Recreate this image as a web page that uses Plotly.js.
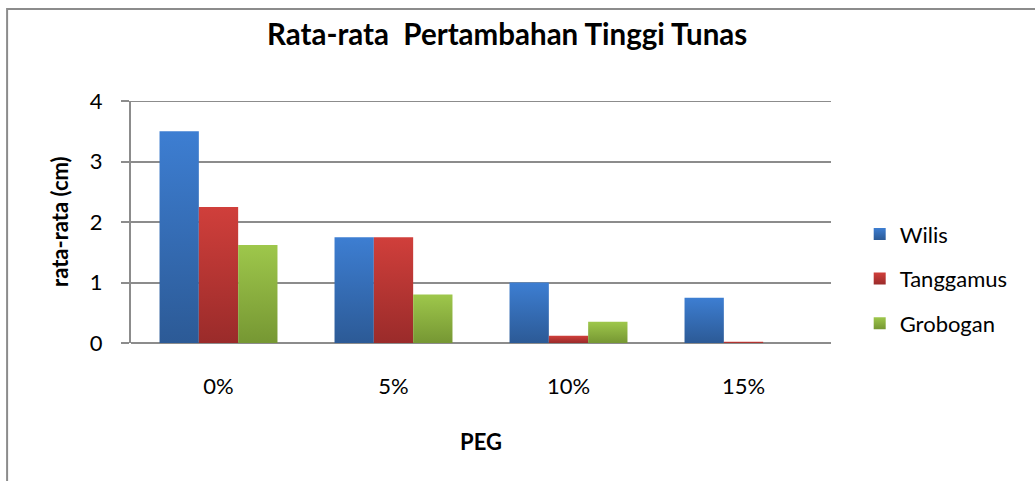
<!DOCTYPE html>
<html><head><meta charset="utf-8">
<script src="https://cdn.plot.ly/plotly-3.0.1.min.js"></script>
<style>html,body{margin:0;padding:0;background:#fff}#chart{width:1035px;height:481px}</style>
</head><body><div id="chart"></div>
<script>
const categories = ["0%", "5%", "10%", "15%"];
const wilis = [3.5, 1.75, 1.0, 0.75];
const tanggamus = [2.25, 1.75, 0.12, 0.02];
const grobogan = [1.62, 0.8, 0.35, 0];
const seriesNames = ["Wilis", "Tanggamus", "Grobogan"];
const colors = ["#3569B2", "#B83634", "#8BB13F"];
const gradTop = ["#3D7ED2", "#D03F3B", "#9EC74B"];
const gradBottom = ["#2C5A96", "#9A2B2A", "#769733"];
const yTicks = [0, 1, 2, 3, 4];

const seriesValues = [wilis, tanggamus, grobogan];
const traces = seriesValues.map((v, i) => ({
  type: "bar", x: categories, y: v, name: seriesNames[i],
  legendgroup: "g" + i,
  marker: {color: colors[i], line: {width: 0}}
}));

const font = "Lato, 'Open Sans', sans-serif";
const gridColor = "#8c8c8c";
const layout = {
  width: 1035, height: 481,
  margin: {l: 131, r: 204, t: 101, b: 138},
  paper_bgcolor: "#fff", plot_bgcolor: "#fff",
  font: {family: font, size: 22, color: "#000"},
  barmode: "group", bargap: 0.326, bargroupgap: 0,
  title: {text: "<b>Rata-rata  Pertambahan Tinggi Tunas</b>", font: {family: font, size: 29.5, color: "#000"},
          x: 0.49, xanchor: "center", y: 0.927, yanchor: "middle"},
  xaxis: {
    type: "category",
    showgrid: false, showline: false, ticks: "", zeroline: false,
    tickfont: {size: 22}, ticklabelstandoff: 28,
    title: {text: "<b>PEG</b>", font: {size: 22}, standoff: 36}
  },
  yaxis: {
    range: [0, 4], tickvals: yTicks, ticktext: yTicks.map(String),
    showgrid: true, gridcolor: gridColor, gridwidth: 2,
    showline: true, linecolor: gridColor, linewidth: 2,
    ticks: "outside", ticklen: 8, tickcolor: gridColor, tickwidth: 2,
    zeroline: true, zerolinecolor: gridColor, zerolinewidth: 2,
    tickfont: {size: 22}, ticklabelstandoff: 14
  },
  annotations: [{text: "<b>rata-rata (cm)</b>", xref: "paper", yref: "paper",
                 x: -0.103, y: 0.5, xanchor: "center", yanchor: "middle",
                 textangle: -90, showarrow: false, font: {size: 22}}],
  legend: {x: 1.041, xanchor: "left", y: 0.266, yanchor: "middle",
           font: {size: 22}, traceorder: "grouped", tracegroupgap: 13,
           itemwidth: 30},
  shapes: [
    {type: "rect", xref: "paper", yref: "paper",
     x0: -0.177, x1: 1.31, y0: -0.62, y1: 1.38,
     line: {color: gridColor, width: 2}},
    {type: "line", xref: "paper", yref: "y", x0: -0.0114, x1: 1, y0: 4, y1: 4,
     line: {color: gridColor, width: 2}}
  ],
  showlegend: true
};
Plotly.newPlot("chart", traces, layout, {staticPlot: true}).then(gd => {
  const svg = gd.querySelector("svg.main-svg");
  const ns = "http://www.w3.org/2000/svg";
  let defs = svg.querySelector("defs");
  if (!defs) { defs = document.createElementNS(ns, "defs"); svg.insertBefore(defs, svg.firstChild); }
  gradTop.forEach((c, i) => {
    const lg = document.createElementNS(ns, "linearGradient");
    lg.setAttribute("id", "barGrad" + i);
    lg.setAttribute("x1", "0"); lg.setAttribute("y1", "0");
    lg.setAttribute("x2", "0"); lg.setAttribute("y2", "1");
    [[0, c], [1, gradBottom[i]]].forEach(([o, col]) => {
      const s = document.createElementNS(ns, "stop");
      s.setAttribute("offset", o); s.setAttribute("stop-color", col);
      lg.appendChild(s);
    });
    defs.appendChild(lg);
  });
  gd.querySelectorAll(".barlayer .trace.bars").forEach((t, i) => {
    t.querySelectorAll("path").forEach(p => { p.style.fill = "url(#barGrad" + i + ")"; });
  });
  gd.querySelectorAll(".legend .traces").forEach((t, i) => {
    t.querySelectorAll(".legendpoints path").forEach(p => { p.style.fill = "url(#barGrad" + i + ")"; });
  });
});
</script></body></html>
